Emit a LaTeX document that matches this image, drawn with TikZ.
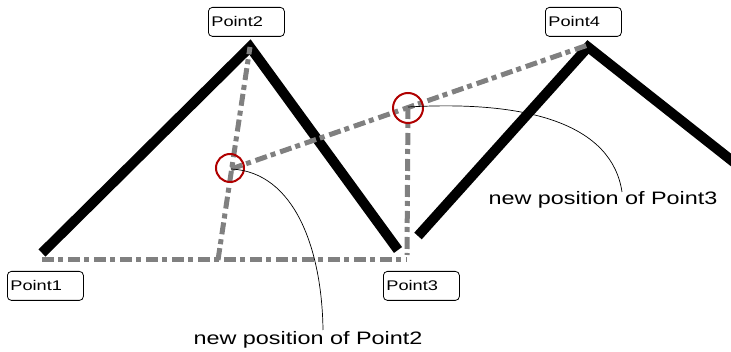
\documentclass[tikz,border=0pt]{standalone}
\usepackage{fontspec}
\setmainfont[FakeStretch=1.3]{Liberation Sans}
\usepackage{tikz}
\usepackage{xcolor}
\definecolor{guidegray}{HTML}{808080}
\definecolor{ringred}{HTML}{B00000}

\begin{document}
\begin{tikzpicture}[
    x=1pt, y=-1pt,
    ptlabel/.style={draw, line width=0.8pt, rounded corners=4pt, anchor=north west,
      minimum width=76pt, minimum height=29pt, text width=70pt, inner sep=3pt,
      align=left, font=\fontsize{14}{16}\selectfont},
    note/.style={font=\fontsize{18}{21}\selectfont, inner sep=0pt},
    ridge/.style={line width=10pt, line join=miter},
    guide/.style={guidegray, line width=5pt, dash pattern=on 12pt off 4pt on 5pt off 5pt},
    ringmark/.style={ringred, line width=2pt},
    leader/.style={line width=0.7pt}
]
  \useasboundingbox (0,0) rectangle (731,352);
  \clip (0,0) rectangle (731,352);

  % Corner points of the two ridges
  \coordinate (p1)  at (42,253);
  \coordinate (p2)  at (250,47);
  \coordinate (p3)  at (398,250);
  \coordinate (q3)  at (418,236);
  \coordinate (p4)  at (588,47);
  \coordinate (q5)  at (745,171);

  % Ridges
  \draw[ridge] (p1)--(p2)--(p3);
  \draw[ridge] (q3)--(p4)--(q5);

  % Guide lines
  \coordinate (g1) at (42,260);
  \coordinate (g3) at (407,260);
  \coordinate (g2) at (218,260);
  \coordinate (n2) at (231,169);
  \coordinate (n3) at (408,107);
  \coordinate (g4) at (588,45);
  \draw[guide] (g1)--(g3);
  \draw[guide] (g2)--(p2);
  \draw[guide] (n2)--(g4);
  \draw[guide] (n3)--(407,255);

  % New positions
  \draw[ringmark] (230,168) circle (14);
  \draw[ringmark] (408,108) circle (15);

  % Labels
  \node[ptlabel] (l1) at (7,271)  {Point1};
  \node[ptlabel] (l2) at (208,7)  {Point2};
  \node[ptlabel] (l3) at (383,271) {Point3};
  \node[ptlabel] (l4) at (545,7)  {Point4};

  \node[note] (t2) at (308,340) {new position of Point2};
  \node[note] (t3) at (603,200) {new position of Point3};

  % Leaders
  \coordinate (e2) at (323,330);
  \coordinate (e3) at (622,192);
  \draw[leader] (n2) .. controls (295,172) and (322,250) .. (e2);
  \draw[leader] (n3) .. controls (530,100) and (612,125) .. (e3);
\end{tikzpicture}
\end{document}
